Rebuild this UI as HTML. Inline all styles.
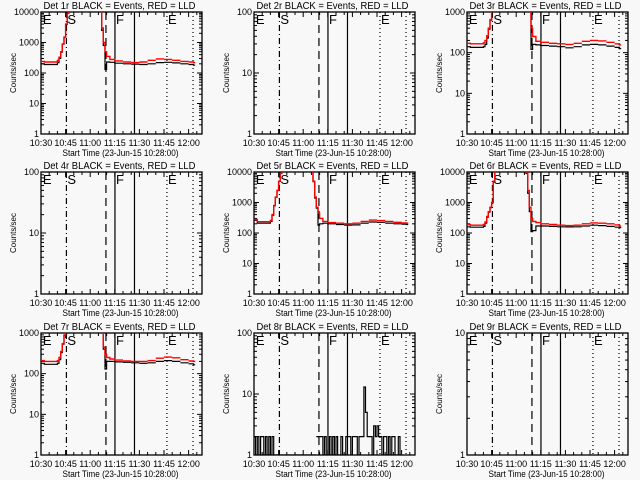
<!DOCTYPE html>
<html><head><meta charset="utf-8"><style>
html,body{margin:0;padding:0;background:#f8f8f8;}
svg{display:block;font-family:"Liberation Sans",sans-serif;}
</style></head><body>
<svg id="c" width="640" height="480" xmlns="http://www.w3.org/2000/svg"></svg>
<script>
// time in minutes since 10:30
const tickLabels = ["10:30","10:45","11:00","11:15","11:30","11:45","12:00"];
const tickMinutes = [0,15,30,45,60,75,90];
const eventLineMinutes = [15.5,39.6,45.1,57,76.8,92.7];
const eventLineStyles = ["6,3,1,3","8,5","","","1,3","1,3"];
const eventLetters = ["E","S","F","E"];
const eventLetterMinutes = [0.5,15.5,45.1,76.8];
const seriesTimes = [0,2,9,10,11,12,13,14,15,16,17,33,34,35,36,37,38,39,40,42,45,50,55,60,65,70,75,80,85,90,93];
const p1Red   = [240,230,230,260,330,500,900,1500,4000,9000,20000, 20000,20000,20000,12000,3000,1000,500,350,280, 250,230,220,230,260,290,280,260,240,230,220];
const p1Black = [200,190,190,220,300,480,880,1480,3900,9000,20000, 20000,20000,20000,11000,2500,800,130,230,225, 210,200,195,190,200,220,225,215,200,190,180];
const p3Red   = [170,165,165,175,200,260,400,650,1100,3000,9000, 9000,9000,9000,9000,9000,2000,400,250,190, 180,170,165,160,170,190,200,195,180,165,155];
const p3Black = [140,135,135,140,160,230,380,630,1050,2900,9000, 9000,9000,9000,9000,9000,1500,120,160,155, 150,145,140,132,140,155,160,155,145,135,125];
const p5Red   = [280,235,235,260,400,800,1500,2500,5000,9000,20000, 20000,20000,20000,5000,1500,700,450,300,240, 220,210,200,210,240,265,255,240,225,215,210];
const p5Black = [260,210,210,240,380,780,1480,2480,4900,9000,20000, 20000,20000,20000,4800,1400,650,180,200,210, 200,190,180,185,210,230,225,210,200,195,190];
const p6Red   = [190,180,180,190,230,350,500,700,1000,5000,20000, 20000,20000,20000,10000,2500,700,300,240,220, 200,190,180,175,180,200,215,210,200,185,170];
const p6Black = [160,155,155,165,210,330,480,680,980,4800,20000, 20000,20000,20000,9000,2000,500,110,120,170, 170,165,160,158,160,170,180,175,165,155,150];
const p7Red   = [210,200,200,210,250,350,550,900,2000,5000,9000, 9000,9000,9000,9000,2000,450,300,250,230, 215,205,200,200,210,240,255,245,220,205,200];
const p7Black = [180,170,170,180,220,330,530,880,1900,4900,9000, 9000,9000,9000,9000,1800,400,130,200,200, 195,190,185,180,185,200,210,200,185,175,165];
const p8Times = [0,1,2,3,4,5,6,7,8,9,10,11,12, 38,39,40,41,42,43,44,45,46,47,48,49,50,51,52,53,54,55,56,57,58,59,60,61,62,63,64,65,66,67,68,69,70,71,72,73,74,75,76,77,78,79,80,81,82,83,84,85,86,87,88,89,90];
const p8Black = [2,1,2,1,2,2,1,2,1,2,1,2,1, 2,2,2,2,1,2,1,1,2,1,2,1,2,1,1,2,1,1,2,2,2,1,2,2,2,1,2,2,2,13,5,2,2,2,1,3,2,3,2,2,1,2,2,1,2,1,2,2,1,1,2,1];
const panelDecades = [4,2,3,2,4,4,3,2,1];
const panelRed = [p1Red,null,p3Red,null,p5Red,p6Red,p7Red,null,null];
const panelBlack = [p1Black,null,p3Black,null,p5Black,p6Black,p7Black,p8Black,null];

const NS="http://www.w3.org/2000/svg";
const svg=document.getElementById('c');
function mk(tag,attrs,parent){const e=document.createElementNS(NS,tag);for(const k in attrs)e.setAttribute(k,attrs[k]);(parent||svg).appendChild(e);return e;}
const colLeft=[41,254,467], rowTop=[12,172,333], W=161, H=122, PPM=1.64;
const defs=mk('defs',{});
for(let p=0;p<9;p++){
  const L=colLeft[p%3], T=rowTop[Math.floor(p/3)], B=T+H, R=L+W, dec=panelDecades[p];
  const g=mk('g',{});
  
  
  const xs=t=>L+t*PPM;
  const ys=v=>B-Math.log10(v)/dec*H;
  const cp=mk('clipPath',{id:'cp'+p},defs); mk('rect',{x:L,y:T,width:W,height:H},cp);
  const tt=mk('text',{x:L+W/2-2,y:T-3,'text-anchor':'middle','font-size':'10.5',textLength:'152',lengthAdjust:'spacingAndGlyphs'},g);
  tt.textContent='Det '+(p+1)+'r BLACK = Events, RED = LLD';
  
  
  const box=mk('rect',{x:L,y:T,width:W,height:H,fill:'none',stroke:'#000','stroke-width':'1.3'},g);
  
  
  for(let d=0;d<=dec;d++){
    const y=B-d/dec*H;
    mk('line',{x1:L,x2:L+5,y1:y,y2:y,stroke:'#000'},g);mk('line',{x1:R,x2:R-5,y1:y,y2:y,stroke:'#000'},g);
    const lb=mk('text',{x:L-2,y:y+3,'text-anchor':'end','font-size':'9'},g);
    lb.textContent=String(Math.pow(10,d));
    
    
    if(d<dec)for(let m=2;m<=9;m++){const ym=ys(m*Math.pow(10,d));mk('line',{x1:L,x2:L+3,y1:ym,y2:ym,stroke:'#000'},g);mk('line',{x1:R,x2:R-3,y1:ym,y2:ym,stroke:'#000'},g);}
  }
  tickMinutes.forEach((tm,i)=>{
    const x=xs(tm);
    mk('line',{x1:x,x2:x,y1:B,y2:B-5,stroke:'#000'},g);mk('line',{x1:x,x2:x,y1:T,y2:T+5,stroke:'#000'},g);
    for(let k=1;k<3;k++){const xm=xs(tm+k*5);if(xm<R){mk('line',{x1:xm,x2:xm,y1:B,y2:B-3,stroke:'#000'},g);mk('line',{x1:xm,x2:xm,y1:T,y2:T+3,stroke:'#000'},g);}}
    const lb=mk('text',{x:x,y:B+12,'text-anchor':'middle','font-size':'9'},g);
    lb.textContent=tickLabels[i];
    
    
  });
  const xt=mk('text',{x:L+W/2-1,y:B+22,'text-anchor':'middle','font-size':'9.5',textLength:'116',lengthAdjust:'spacingAndGlyphs'},g);
  xt.textContent='Start Time (23-Jun-15 10:28:00)';
  
  
  const yt=mk('text',{x:0,y:0,'text-anchor':'middle','font-size':'8',transform:'translate('+(L-25)+','+(T+H/2)+') rotate(-90)'},g);
  yt.textContent='Counts/sec';
  
  
  eventLineMinutes.forEach((tm,i)=>{
    const ln=mk('line',{x1:xs(tm),x2:xs(tm),y1:T,y2:B,stroke:'#000','stroke-width':'1.2','stroke-dasharray':eventLineStyles[i]},g);
    
    
  });
  eventLetters.forEach((s,i)=>{
    const lt=mk('text',{x:xs(eventLetterMinutes[i])+1,y:T+12,'font-size':'13'},g);
    lt.textContent=s;
    
    
  });
  const stepPath=(times,vals)=>{
    let d='',pen=false;
    for(let i=0;i<vals.length;i++){
      const v=vals[i]; if(v==null){pen=false;continue;}
      const y=ys(Math.max(v,1)); const x0=xs(times[i]); const x1=xs(i+1<times.length?times[i+1]:times[i]+1);
      d+=(pen?'L':'M')+x0.toFixed(1)+' '+y.toFixed(1)+'L'+x1.toFixed(1)+' '+y.toFixed(1);
      pen=!(i+1<times.length && times[i+1]-times[i]>3);
    }
    return d;
  };
  const pb=panelBlack[p];
  if(pb){
    const tms = p===7?p8Times:seriesTimes;
    const pa=mk('path',{d:stepPath(tms,pb),fill:'none',stroke:'#000','stroke-width':'1.2','clip-path':'url(#cp'+p+')'},g);
    
    
  }
  const pr=panelRed[p];
  if(pr){
    const pa=mk('path',{d:stepPath(seriesTimes,pr),fill:'none',stroke:'#f00','stroke-width':'1.4','clip-path':'url(#cp'+p+')'},g);
    
    
  }
}
</script>
</body></html>
